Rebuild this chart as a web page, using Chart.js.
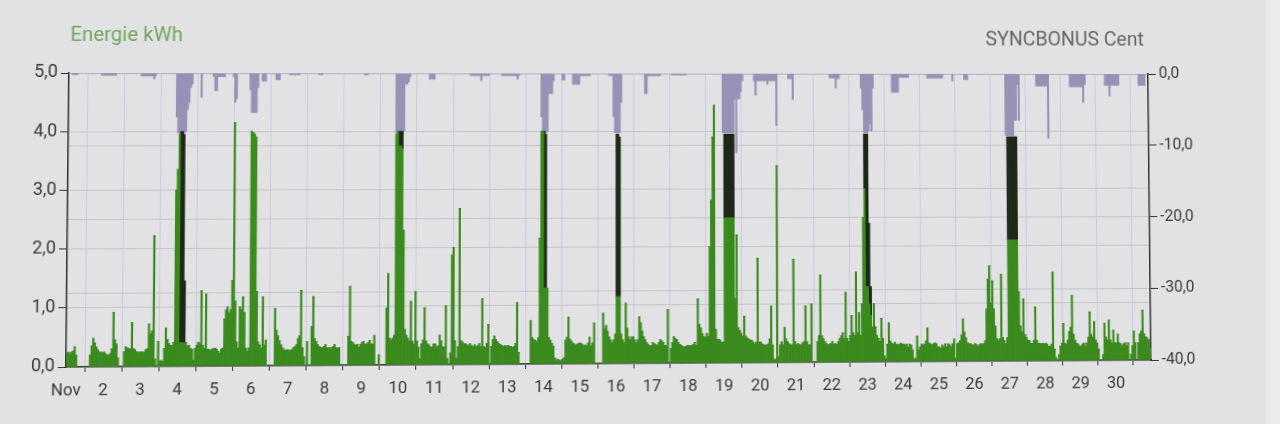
<!DOCTYPE html>
<html>
<head>
<meta charset="utf-8">
<script src="https://cdn.jsdelivr.net/npm/chart.js@4.4.1/dist/chart.umd.min.js"></script>
<style>
  html, body { margin: 0; padding: 0; background: #e2e2e4; }
  body { width: 1280px; height: 424px; overflow: hidden; position: relative; }
  #myChart { position: absolute; left: 0; top: 0; transform-origin: 0 0; }
  #edge { position: absolute; left: 1266px; top: 0; width: 14px; height: 424px; background: #ebebeb; }
</style>
</head>
<body>
<canvas id="myChart" width="1280" height="424"></canvas>
<div id="edge"></div>
<script>
// x tick labels, one per day
var dayLabels = ['Nov', '2', '3', '4', '5', '6', '7', '8', '9', '10', '11', '12', '13', '14', '15',
  '16', '17', '18', '19', '20', '21', '22', '23', '24', '25', '26', '27', '28', '29', '30'];

// hourly grid energy in kWh (green part), one row per day
var gridEnergy = [
  .22,.25,.22,.25,.27,.34,.2,0,0,0,0,0,0,0,0,.2,.35,.48,.4,.33,.28,.25,.24,.24,
  .25,.22,.2,.2,.22,.3,.92,.45,.38,.15,0,0,0,.25,.33,.32,.3,.3,.75,.3,.28,.25,.24,.24,
  .25,.24,.24,.28,.3,.72,.55,.6,2.22,.12,0,.42,.08,.1,.08,.3,.65,.45,.38,.35,.35,.4,3.0,3.35,
  3.95,.4,.4,.4,.4,.4,.33,.35,.3,.28,.1,.3,.35,.4,.38,1.28,.35,.3,1.22,.28,.28,.27,.28,.3,
  .3,.28,.25,.22,.28,.3,.8,.95,1.0,.9,.95,1.45,4.15,1.1,.4,.3,1.0,.95,1.17,.9,.3,.25,.3,4.0,
  3.98,3.95,3.9,1.26,.4,.35,.3,1.17,.35,.43,0,0,0,0,0,.97,.6,.5,.42,.35,.3,.27,.26,.27,
  .26,.25,.27,.3,.32,.35,.45,.5,1.28,.3,.15,0,.4,0,0,.66,1.17,.45,.4,.35,.32,.3,.3,.32,
  .35,.3,.3,.28,.3,.32,.35,.3,.28,.3,0,0,0,0,0,.49,1.34,.4,.38,.35,.33,.35,.3,.35,
  .38,.4,.35,.36,.38,.42,.36,.35,.5,0,0,.17,0,0,0,0,.97,1.56,.45,.42,.45,.5,3.95,4.0,
  3.75,3.75,3.7,2.3,.6,.5,.45,.4,1.08,.4,.35,1.25,.4,.3,.1,.35,.42,.97,.4,.35,.33,.3,.3,.35,
  .35,.3,.32,.5,.4,.3,.3,1.0,.1,0,.2,1.87,2.0,.4,.1,.3,2.67,.4,.38,.35,.35,.33,.32,.35,
  .32,.3,.33,.3,.32,.35,.3,1.12,.3,.28,.35,.68,0,.3,.42,.48,.42,.38,.35,.33,.32,.3,.32,.3,
  .32,.3,.3,.28,.3,.35,1.05,.2,0,0,0,0,0,0,0,.74,.45,.42,.4,.38,.45,2.16,4.0,4.0,
  1.3,1.3,1.3,.45,.4,.35,.3,.1,.05,.08,.06,.05,.08,.1,.4,.45,.8,.42,.38,.35,.33,.32,.33,.35,
  .35,.33,.3,.32,.3,.35,.45,.3,.35,.69,0,0,0,0,0,.86,.6,.65,.55,.45,.4,.35,.4,.5,
  1.15,1.15,1.15,.5,.4,.35,1.03,.6,.45,.4,.45,.45,.4,.35,.4,.8,.69,.55,.45,.4,.35,.32,.3,.3,
  .35,.33,.32,.3,.35,.4,.38,.35,.3,.3,.92,0,.25,.35,.45,.42,.4,.35,.32,.3,.28,.27,.28,.3,
  .3,.28,.3,.32,.35,.3,1.1,.66,.6,.5,.45,.43,.5,.45,2.0,2.8,3.9,4.45,.57,.4,.4,.38,.35,.35,
  2.5,2.5,2.5,2.5,2.5,2.5,2.5,1.1,2.2,.6,.55,.5,.45,.8,.45,.42,.4,.38,.38,.35,.32,.35,1.8,.35,
  .35,.32,.3,.3,.3,.32,.4,.97,.3,.05,.05,3.4,.1,.3,.35,.3,.6,.4,.35,.32,.3,.3,1.78,.35,
  .3,.32,.3,.3,.33,.35,.97,.35,.3,.3,1.0,0,0,0,.35,.45,1.5,.45,.4,.35,.32,.3,.3,.32,
  .35,.3,.32,.3,.35,.4,.45,.5,.4,1.2,.4,.35,.45,.8,.5,.45,1.55,.5,.85,.45,1.0,2.5,3.0,1.3,
  1.3,1.0,.8,.6,1.0,.6,.45,.4,.35,.75,.4,.1,.05,.3,.67,.35,.32,.3,.33,.3,.28,.3,.32,.3,
  .3,.28,.3,.25,.3,.28,.2,.05,.05,.44,.2,.25,.3,.28,.3,.35,.58,.32,.3,.28,.3,.32,.3,.25,
  .25,.22,.28,.25,.3,.25,.3,.28,.25,.3,.38,.05,.3,.32,.35,.45,.73,.5,.4,.32,.3,.3,.28,.27,
  .3,.28,.25,.28,.3,.28,.3,.35,.9,1.42,1.65,1.0,1.39,.9,.6,.38,.35,.38,1.5,.4,.35,.3,.4,2.1,
  2.1,2.1,2.1,2.1,2.1,2.1,1.2,.6,.5,1.07,.45,.4,.35,.35,.3,.3,.35,.93,.35,.3,.3,.28,.3,.28,
  .3,.28,.25,.25,.28,1.54,.2,.05,0,.1,.25,.3,.64,.3,.28,.35,.5,.58,1.13,.45,.35,.3,.28,.25,
  .25,.28,.3,.25,.3,.4,.84,.45,.4,.67,.35,.3,.2,0,0,.1,.64,.4,.35,.7,.35,.3,.52,.3,
  .3,.45,.3,.28,.25,.28,.3,.25,.3,0,.1,.25,.5,.3,0,.3,.45,.5,.87,.45,.4,.38,.35,.2
];

// hourly energy charged in the bonus window in kWh (dark part on top)
var bonusEnergy = [
  0,0,0,0,0,0,0,0,0,0,0,0,0,0,0,0,0,0,0,0,0,0,0,0,
  0,0,0,0,0,0,0,0,0,0,0,0,0,0,0,0,0,0,0,0,0,0,0,0,
  0,0,0,0,0,0,0,0,0,0,0,0,0,0,0,0,0,0,0,0,0,0,0,0,
  0,3.6,3.6,3.55,1.05,0,0,0,0,0,0,0,0,0,0,0,0,0,0,0,0,0,0,0,
  0,0,0,0,0,0,0,0,0,0,0,0,0,0,0,0,0,0,0,0,0,0,0,0,
  0,0,0,0,0,0,0,0,0,0,0,0,0,0,0,0,0,0,0,0,0,0,0,0,
  0,0,0,0,0,0,0,0,0,0,0,0,0,0,0,0,0,0,0,0,0,0,0,0,
  0,0,0,0,0,0,0,0,0,0,0,0,0,0,0,0,0,0,0,0,0,0,0,0,
  0,0,0,0,0,0,0,0,0,0,0,0,0,0,0,0,0,0,0,0,0,0,0,0,
  .25,.25,.3,0,0,0,0,0,0,0,0,0,0,0,0,0,0,0,0,0,0,0,0,0,
  0,0,0,0,0,0,0,0,0,0,0,0,0,0,0,0,0,0,0,0,0,0,0,0,
  0,0,0,0,0,0,0,0,0,0,0,0,0,0,0,0,0,0,0,0,0,0,0,0,
  0,0,0,0,0,0,0,0,0,0,0,0,0,0,0,0,0,0,0,0,0,0,0,0,
  2.7,2.65,0,0,0,0,0,0,0,0,0,0,0,0,0,0,0,0,0,0,0,0,0,0,
  0,0,0,0,0,0,0,0,0,0,0,0,0,0,0,0,0,0,0,0,0,0,0,0,
  2.8,2.8,2.75,0,0,0,0,0,0,0,0,0,0,0,0,0,0,0,0,0,0,0,0,0,
  0,0,0,0,0,0,0,0,0,0,0,0,0,0,0,0,0,0,0,0,0,0,0,0,
  0,0,0,0,0,0,0,0,0,0,0,0,0,0,0,0,0,0,0,0,0,0,0,0,
  1.45,1.45,1.45,1.45,1.45,1.45,1.45,0,0,0,0,0,0,0,0,0,0,0,0,0,0,0,0,0,
  0,0,0,0,0,0,0,0,0,0,0,0,0,0,0,0,0,0,0,0,0,0,0,0,
  0,0,0,0,0,0,0,0,0,0,0,0,0,0,0,0,0,0,0,0,0,0,0,0,
  0,0,0,0,0,0,0,0,0,0,0,0,0,0,0,0,0,0,0,0,0,0,.95,2.65,
  2.65,1.4,.5,0,0,0,0,0,0,0,0,0,0,0,0,0,0,0,0,0,0,0,0,0,
  0,0,0,0,0,0,0,0,0,0,0,0,0,0,0,0,0,0,0,0,0,0,0,0,
  0,0,0,0,0,0,0,0,0,0,0,0,0,0,0,0,0,0,0,0,0,0,0,0,
  0,0,0,0,0,0,0,0,0,0,0,0,0,0,0,0,0,0,0,0,0,0,0,1.8,
  1.8,1.8,1.8,1.8,1.8,1.8,0,0,0,0,0,0,0,0,0,0,0,0,0,0,0,0,0,0,
  0,0,0,0,0,0,0,0,0,0,0,0,0,0,0,0,0,0,0,0,0,0,0,0,
  0,0,0,0,0,0,0,0,0,0,0,0,0,0,0,0,0,0,0,0,0,0,0,0,
  0,0,0,0,0,0,0,0,0,0,0,0,0,0,0,0,0,0,0,0,0,0,0,0
];

// hourly syncbonus in cent (negative, hangs from the top on the right axis)
var syncBonus = [
  0,0,-.2,-.2,-.2,-.2,0,0,0,0,0,0,0,0,0,0,0,0,0,0,0,-.3,-.3,-.3,
  -.3,-.3,-.3,-.3,-.3,-.3,-.3,0,0,0,0,0,0,0,0,0,0,0,0,0,0,0,0,-.4,
  -.4,-.4,-.4,-.4,-.4,-.4,-.4,-.8,-.4,0,0,0,0,0,0,0,0,0,0,0,0,0,-6,-8.2,
  -8.2,-8.2,-8.2,-8.2,-8,-5,-4,-2,-1.5,0,0,0,0,0,-3.3,0,0,0,0,0,0,0,-.5,-2.4,
  -2.4,-.5,-.5,-.5,-.5,-.5,0,0,0,0,0,-.5,-4,-3.5,0,0,0,0,0,0,0,0,-2.3,-5.4,
  -5.4,-5.4,-5.4,-2,0,0,-1.1,-1.1,-1.1,0,0,0,0,0,0,-.9,-.9,-.9,0,0,0,0,0,0,
  -.2,-.2,-.2,-.2,-.2,-.2,-.2,0,0,0,0,0,0,0,0,0,0,0,0,-.2,-.2,-.2,0,0,
  0,0,0,0,0,0,0,0,0,0,0,0,0,0,0,0,0,0,0,0,0,0,0,0,
  0,-.2,-.2,-.2,0,0,0,0,0,0,0,0,0,0,0,0,0,0,0,0,0,0,-8.2,-8.2,
  -8.2,-8.2,-8.2,-8,-1.5,-1.5,-1.2,-.5,0,0,0,0,0,0,0,0,0,0,0,0,-.8,-.8,-.8,-.8,
  0,0,0,0,0,0,0,0,0,0,0,0,0,0,0,0,0,0,0,0,0,0,0,-.3,
  -.3,-.3,-.3,-.3,-.3,-.3,-1,-.3,-.3,-.3,-.3,-.3,0,0,0,0,0,0,0,0,-.3,-.3,-.3,-.3,
  -.3,-.3,-.3,-.3,-.3,-.3,-.8,-.3,0,0,0,0,0,0,0,0,0,0,0,0,0,0,-6,-8.2,
  -8.2,-8.2,-8,-2.8,-2.8,-2.8,-1,0,0,0,0,0,-.9,-.9,0,0,0,0,0,-1.5,-1.5,-1.5,-1.5,-1.5,
  -.3,-.3,-.3,-.3,-.3,-.3,-.3,0,0,0,0,0,0,0,0,0,0,0,0,-.3,-.3,-.3,-6,-8.2,
  -8.2,-8.2,-8.2,-4,0,0,0,0,0,0,0,0,0,0,0,0,0,0,0,-2.8,-2.8,-.3,-.3,-.3,
  -.3,-.3,-.3,-.3,-.3,-.3,0,0,0,0,0,0,0,-.2,-.2,-.2,-.2,-.2,-.2,-.2,-.2,-.2,-.2,0,
  0,0,0,0,0,0,0,0,0,0,0,0,0,0,0,0,0,0,0,0,0,0,0,-8.2,
  -8.2,-8.2,-8.2,-8.2,-8.2,-8.2,-8.2,-3.5,-11,-3.5,-3.5,-2.5,-1,0,0,0,0,0,0,0,-1,-3,-1,-1,
  -1,-1,-1,-1,-1,-1.5,-1,-1,-1,-1,-1,-7.2,0,0,0,0,0,0,0,-.7,-.7,-.7,-3.6,0,
  0,0,0,0,0,0,0,0,0,0,0,0,0,0,0,0,0,0,0,0,0,0,0,-.6,
  -.6,-.6,-.6,-2,-.7,-.7,0,0,0,0,0,0,0,0,0,0,0,0,0,0,-2,-5,-8.2,-8.2,
  -8.2,-8,-7,-8,-2,0,0,0,0,0,0,0,0,0,0,0,0,-2.6,-2.6,-2.6,-2.6,-2.6,-.5,-.5,
  -.5,-.5,-.5,-.5,-.5,0,0,0,0,0,0,0,0,0,0,0,0,-.6,-.6,-.6,-.6,-.6,-.6,-.6,
  -.6,-.6,-.6,-.6,0,0,0,0,0,0,-1,0,0,0,0,0,0,0,-.8,-.8,-.8,0,0,0,
  0,0,0,0,0,0,0,0,0,0,0,0,0,0,0,0,0,0,0,0,0,0,-8.6,-8.6,
  -8.6,-8.6,-8.6,-8.6,-6.5,-6.5,-1.5,-6.5,0,0,0,0,0,0,0,0,0,0,0,-1.7,-1.7,-1.7,-1.7,-1.7,
  -1.7,-1.7,-1.7,-9,0,0,0,0,0,0,0,0,0,0,0,0,0,0,-1.8,-1.8,-1.8,-1.8,-1.8,-1.8,
  -1.8,-1.8,-1.8,-4,-1.5,0,0,0,0,0,0,0,0,0,0,0,0,0,-1.6,-1.6,-1.6,-3.1,-1.6,-1.6,
  -1.6,-1.6,-1.6,-1.6,0,0,0,0,0,0,0,0,0,0,0,0,0,-1.6,-1.6,-1.6,-1.6,-1.6,0,0
];

function toPoints(values) {
  return values.map(function (v, i) { return { x: i + 0.5, y: v }; });
}

function commaLabel(v) {
  return v.toFixed(1).replace('.', ',');
}

var axisTitles = {
  id: 'axisTitles',
  afterDraw: function (chart) {
    var ctx = chart.ctx, area = chart.chartArea;
    ctx.save();
    ctx.font = '20px Roboto';
    ctx.textBaseline = 'middle';
    ctx.textAlign = 'left';
    ctx.fillStyle = '#74a661';
    ctx.fillText('Energie kWh', area.left + 1, 36);
    ctx.textAlign = 'right';
    ctx.fillStyle = '#666668';
    ctx.fillText('SYNCBONUS Cent', area.right - 4, 39);
    ctx.restore();
  }
};

var chart = new Chart('myChart', {
  type: 'bar',
  data: {
    datasets: [{
      label: 'Energie',
      data: toPoints(gridEnergy),
      backgroundColor: '#3a8a1d',
      yAxisID: 'y',
      stack: 'energy'
    }, {
      label: 'Bonus energy',
      data: toPoints(bonusEnergy),
      backgroundColor: '#1d2819',
      yAxisID: 'y',
      stack: 'energy'
    }, {
      label: 'SYNCBONUS',
      data: toPoints(syncBonus),
      backgroundColor: '#9891b6',
      yAxisID: 'y2',
      stack: 'bonus'
    }]
  },
  options: {
    responsive: false,
    animation: false,
    events: [],
    layout: {
      padding: { top: 73, left: 0, right: 0, bottom: 0 }
    },
    datasets: {
      bar: {
        grouped: false,
        barPercentage: 1,
        categoryPercentage: 1,
        borderWidth: 0
      }
    },
    plugins: {
      legend: { display: false },
      tooltip: { enabled: false },
      title: { display: false }
    },
    scales: {
      x: {
        type: 'linear',
        min: 0,
        max: 720,
        offset: false,
        afterFit: function (scale) { scale.height = 60; },
        ticks: {
          stepSize: 24,
          autoSkip: false,
          maxRotation: 0,
          padding: 9,
          color: '#3a3a3c',
          font: { family: 'Roboto', size: 16.5 },
          callback: function (val) { return dayLabels[val / 24] || ''; }
        },
        grid: {
          color: '#cfcadb',
          tickColor: '#333333',
          tickLength: 5
        },
        border: { color: '#333333', width: 1.5 }
      },
      y: {
        position: 'left',
        min: 0,
        max: 5,
        stacked: true,
        afterFit: function (scale) { scale.width = 67; },
        ticks: {
          stepSize: 1,
          padding: 3,
          color: '#3a3a3c',
          font: { family: 'Roboto', size: 17.5 },
          callback: function (val) { return commaLabel(val); }
        },
        grid: {
          color: '#c5c4cb',
          tickColor: '#333333',
          tickLength: 8
        },
        border: { color: '#333333', width: 1.5 }
      },
      y2: {
        position: 'right',
        min: -40,
        max: 0,
        afterFit: function (scale) { scale.width = 130; },
        ticks: {
          stepSize: 10,
          padding: 3,
          color: '#3a3a3c',
          font: { family: 'Roboto', size: 16 },
          callback: function (val) { return commaLabel(val); }
        },
        grid: {
          color: '#c5c4cb',
          tickColor: '#333333',
          tickLength: 8
        },
        border: { color: '#333333', width: 1.5 }
      }
    }
  },
  plugins: [axisTitles]
});

// the reference is a photo of a screen taken at a slight angle:
// map the flat chart area onto the skewed quadrilateral seen in the photo
function homography(src, dst) {
  var A = [], b = [], i, r, c, k;
  for (i = 0; i < 4; i++) {
    var x = src[i][0], y = src[i][1], X = dst[i][0], Y = dst[i][1];
    A.push([x, y, 1, 0, 0, 0, -x * X, -y * X]); b.push(X);
    A.push([0, 0, 0, x, y, 1, -x * Y, -y * Y]); b.push(Y);
  }
  for (c = 0; c < 8; c++) {
    var p = c;
    for (r = c + 1; r < 8; r++) if (Math.abs(A[r][c]) > Math.abs(A[p][c])) p = r;
    var tmp = A[c]; A[c] = A[p]; A[p] = tmp;
    tmp = b[c]; b[c] = b[p]; b[p] = tmp;
    for (r = 0; r < 8; r++) {
      if (r === c) continue;
      var f = A[r][c] / A[c][c];
      for (k = c; k < 8; k++) A[r][k] -= f * A[c][k];
      b[r] -= f * b[c];
    }
  }
  return b.map(function (v, j) { return v / A[j][j]; });
}

var area = chart.chartArea;
var h = homography(
  [[area.left, area.top], [area.right, area.top], [area.right, area.bottom], [area.left, area.bottom]],
  [[69, 73], [1148, 74], [1151, 360], [66, 367]]
);
document.getElementById('myChart').style.transform =
  'matrix3d(' + [h[0], h[3], 0, h[6], h[1], h[4], 0, h[7], 0, 0, 1, 0, h[2], h[5], 0, 1].join(',') + ')';
</script>
</body>
</html>
